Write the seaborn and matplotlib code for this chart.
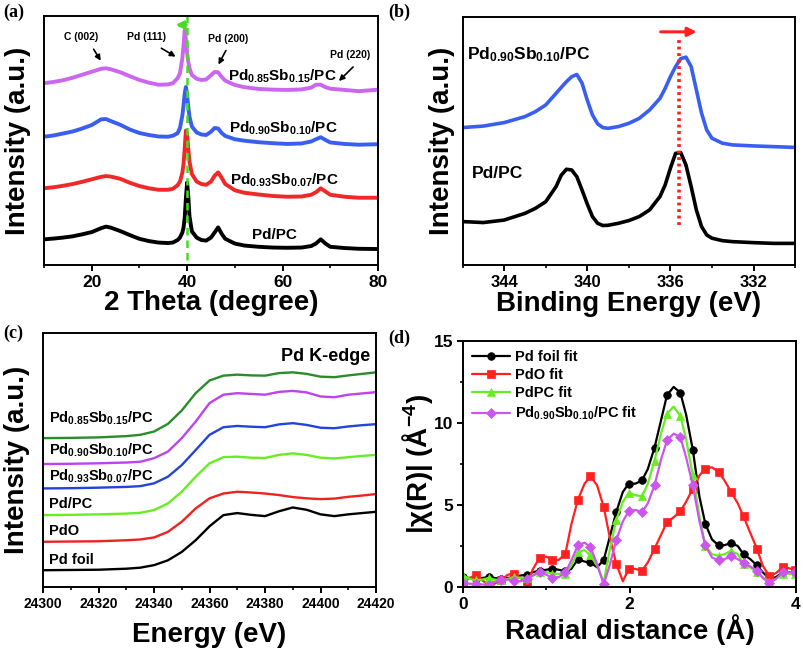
import numpy as np
import pandas as pd
import matplotlib
matplotlib.use('Agg')
import matplotlib.pyplot as plt
from matplotlib.ticker import MultipleLocator
import seaborn as sns

# ---- (a) XRD ----
xrd_theta = [10, 12, 14, 16, 18, 20, 22, 23, 24, 26, 28, 30, 32, 34, 36, 37, 38, 38.5,
             39, 39.25, 39.5, 39.75, 40, 40.25, 40.5, 41, 42, 43, 44, 45, 45.75, 46.5,
             47.25, 48, 50, 52, 55, 58, 61, 64, 66, 67, 68, 69, 70, 73, 76, 80]
xrd_pd = [10.3, 10.6, 11.0, 11.5, 12.3, 13.2, 14.8, 15.4, 15.0, 13.6, 12.0, 10.5, 9.6, 9.0,
          8.8, 9.0, 10.0, 11.0, 13.0, 15.0, 19.0, 27.0, 33.1, 27.5, 19.5, 13.5, 11.0, 10.0,
          9.8, 11.0, 13.0, 15.1, 12.5, 10.5, 8.6, 7.8, 7.3, 7.0, 6.9, 7.0, 7.6, 8.6, 10.3,
          8.6, 7.3, 6.8, 6.5, 6.4]
xrd_sb07 = [30.8, 31.2, 31.8, 32.5, 33.4, 34.4, 35.4, 35.7, 35.5, 34.6, 33.0, 31.7, 30.8,
            30.2, 30.2, 30.6, 32.0, 33.5, 37.0, 40.5, 47.0, 54.0, 52.5, 46.5, 41.5, 36.5,
            33.5, 32.5, 32.2, 33.5, 35.8, 37.2, 35.0, 32.5, 30.0, 29.0, 28.3, 27.7, 27.4,
            27.5, 28.2, 29.2, 30.8, 29.5, 28.2, 27.4, 27.0, 27.0]
xrd_sb10 = [51.5, 52.0, 52.8, 53.6, 54.8, 56.2, 58.5, 58.6, 57.8, 56.3, 54.4, 53.0, 52.2,
            51.6, 51.5, 51.9, 52.9, 55.0, 60.0, 64.0, 69.0, 71.5, 68.0, 63.5, 59.5, 55.6,
            53.2, 52.4, 52.2, 53.5, 55.0, 54.8, 53.0, 51.8, 50.5, 49.9, 49.3, 48.9, 48.6,
            48.8, 49.6, 50.5, 51.3, 50.2, 49.2, 48.6, 48.3, 48.5]
xrd_sb15 = [73.0, 73.5, 74.2, 75.2, 76.4, 77.6, 78.8, 79.0, 78.6, 77.4, 75.8, 74.3, 73.2,
            72.4, 72.5, 73.0, 75.0, 77.0, 83.0, 88.0, 94.4, 90.5, 85.0, 81.5, 79.0, 76.3,
            74.8, 74.3, 74.5, 76.2, 77.5, 77.4, 75.5, 74.0, 72.3, 71.4, 70.7, 70.4, 70.3,
            70.5, 71.2, 72.4, 72.4, 71.4, 70.8, 70.3, 69.8, 70.4]

# ---- (b) XPS Pd 3d ----
xps_be = [346, 345, 344, 343, 342.5, 342, 341.5, 341.25, 341, 340.75, 340.5, 340.25, 340,
          339.75, 339.5, 339.25, 339, 338.5, 338, 337.5, 337, 336.5, 336.25, 336, 335.75,
          335.5, 335.25, 335, 334.75, 334.5, 334.25, 334, 333.5, 333, 332, 331, 330]
xps_pd = [17.5, 17.1, 18.1, 20.8, 22.8, 25.5, 31.6, 36.2, 38.6, 38.3, 35.6, 30.2, 24.6,
          19.5, 16.8, 15.9, 16.0, 16.8, 17.9, 19.5, 22.2, 27.6, 32.3, 39.0, 45.0, 45.3,
          40.3, 31.6, 22.2, 15.5, 12.1, 10.8, 9.8, 9.4, 9.0, 8.7, 8.7]
xps_sb10 = [55.4, 56.0, 57.4, 59.8, 61.8, 64.5, 69.2, 71.6, 73.9, 75.9, 76.8, 73.3, 66.5,
            60.5, 56.9, 55.4, 55.1, 55.8, 57.1, 59.1, 62.5, 67.2, 71.2, 75.9, 80.0, 83.2,
            83.8, 80.0, 70.6, 61.2, 54.4, 51.1, 49.1, 48.4, 48.0, 47.7, 47.4]

# ---- (c) XANES Pd K-edge ----
xanes_e = [24300, 24310, 24320, 24330, 24335, 24340, 24345, 24350, 24355, 24360, 24365,
           24370, 24375, 24380, 24385, 24390, 24395, 24400, 24405, 24410, 24415, 24420]
xanes_foil = [6.6, 6.7, 6.8, 7.2, 7.6, 8.6, 10.5, 13.8, 18.4, 23.9, 28.3, 29.1, 28.4, 27.9,
              29.8, 31.3, 30.4, 28.6, 27.9, 28.6, 29.1, 29.6]
xanes_pdo = [17.8, 17.9, 18.0, 18.4, 18.7, 19.5, 21.7, 25.7, 30.9, 34.9, 36.8, 37.5, 37.2,
             36.8, 36.2, 35.4, 34.9, 34.6, 34.8, 35.5, 36.0, 36.6]
xanes_pdpc = [28.3, 28.4, 28.6, 28.9, 29.2, 30.3, 32.9, 37.5, 43.4, 48.7, 51.1, 51.3, 50.9,
              50.8, 52.0, 52.6, 52.0, 50.9, 50.6, 51.1, 51.6, 52.0]
xanes_sb07 = [38.8, 38.9, 39.1, 39.4, 39.7, 40.8, 43.4, 48.0, 53.9, 59.9, 62.9, 63.4, 63.1,
              62.9, 64.0, 64.5, 63.8, 62.7, 62.5, 63.2, 63.7, 64.1]
xanes_sb10 = [48.4, 48.5, 48.7, 49.0, 49.3, 50.7, 53.3, 58.6, 65.1, 72.4, 75.7, 76.3, 76.0,
              75.7, 76.8, 77.2, 76.6, 75.0, 74.7, 75.7, 76.2, 76.7]
xanes_sb15 = [58.6, 58.7, 58.9, 59.4, 59.9, 61.2, 64.2, 69.5, 76.3, 81.3, 83.2, 83.6, 83.3,
              83.2, 84.2, 84.5, 83.9, 82.8, 82.6, 83.3, 83.9, 84.5]

# ---- (d) EXAFS |chi(R)| ----
exafs_r = [0.00, 0.08, 0.15, 0.23, 0.31, 0.38, 0.46, 0.54, 0.61, 0.69, 0.77, 0.84, 0.92,
           1.00, 1.07, 1.15, 1.23, 1.30, 1.38, 1.46, 1.53, 1.61, 1.69, 1.76, 1.84, 1.92,
           1.99, 2.07, 2.15, 2.22, 2.30, 2.38, 2.45, 2.53, 2.61, 2.68, 2.76, 2.84, 2.91,
           2.99, 3.07, 3.14, 3.22, 3.30, 3.37, 3.45, 3.53, 3.60, 3.68, 3.76, 3.84, 3.91, 3.99]
exafs_foil = [0.60, 0.55, 0.50, 0.55, 0.60, 0.55, 0.50, 0.55, 0.60, 0.70, 0.75, 0.90, 1.00,
              1.05, 1.12, 1.05, 0.95, 1.10, 1.69, 1.55, 1.50, 1.20, 1.65, 3.00, 4.57, 5.80,
              6.30, 6.30, 6.50, 7.20, 8.50, 10.20, 11.70, 12.20, 11.85, 10.50, 8.37, 5.50,
              3.86, 2.90, 2.54, 2.55, 2.68, 2.50, 1.99, 1.70, 1.32, 0.90, 0.50, 0.60, 0.90,
              0.90, 0.90]
exafs_pdo = [0.25, 0.55, 0.71, 0.40, 0.15, 0.20, 0.45, 0.75, 0.81, 0.55, 0.25, 1.10, 1.79,
             1.85, 1.67, 1.65, 2.03, 3.80, 5.33, 6.30, 6.75, 6.20, 4.88, 3.10, 1.42, 0.35,
             1.10, 1.10, 1.00, 1.50, 2.34, 3.20, 3.96, 4.25, 4.62, 5.20, 6.00, 6.80, 7.22,
             7.30, 7.01, 6.50, 5.80, 5.10, 4.30, 3.30, 2.34, 1.30, 0.65, 0.85, 1.22, 1.15,
             1.05]
exafs_pdpc = [0.70, 0.50, 0.40, 0.45, 0.55, 0.45, 0.40, 0.50, 0.60, 0.55, 0.55, 0.70, 0.91,
              0.90, 0.81, 0.80, 0.80, 1.30, 2.13, 2.25, 1.93, 1.30, 0.30, 2.20, 4.07, 5.20,
              5.73, 5.60, 5.53, 6.30, 7.70, 9.40, 10.57, 11.00, 10.43, 9.00, 6.80, 4.30,
              2.50, 2.00, 1.90, 2.00, 2.20, 2.00, 1.42, 1.20, 0.91, 0.60, 0.30, 0.50, 0.81,
              0.80, 0.77]
exafs_sb10 = [0.25, 0.20, 0.20, 0.15, 0.15, 0.30, 0.45, 0.45, 0.37, 0.35, 0.50, 0.70, 0.90,
              0.75, 0.57, 0.60, 0.90, 1.60, 2.55, 2.70, 2.44, 1.40, 0.16, 1.30, 2.85, 4.00,
              4.62, 4.70, 4.57, 5.10, 6.20, 7.80, 8.94, 9.35, 9.15, 7.90, 6.20, 4.00, 2.54,
              1.80, 1.63, 1.70, 1.87, 1.70, 1.46, 1.25, 1.00, 0.55, 0.24, 0.50, 0.91, 0.90,
              0.91]

sns.set_theme(style='ticks')
plt.rcParams.update({
    'font.family': ['Liberation Sans', 'DejaVu Sans'],
    'font.weight': 'bold',
    'axes.labelweight': 'bold',
    'mathtext.fontset': 'custom',
    'mathtext.rm': 'Liberation Sans:bold',
    'mathtext.it': 'Liberation Sans:bold',
    'mathtext.bf': 'Liberation Sans:bold',
    'mathtext.default': 'rm',
    'text.color': 'black',
    'axes.labelcolor': 'black',
    'axes.edgecolor': 'black',
    'axes.linewidth': 1.4,
    'xtick.color': 'black',
    'ytick.color': 'black',
    'xtick.major.width': 1.4,
    'ytick.major.width': 1.4,
    'xtick.minor.width': 1.2,
    'ytick.minor.width': 1.2,
    'xtick.major.size': 4,
    'ytick.major.size': 4,
    'xtick.minor.size': 2.5,
    'ytick.minor.size': 2.5,
    'xtick.direction': 'out',
    'ytick.direction': 'out',
})

fig = plt.figure(figsize=(8.04, 6.52), dpi=100)
ax_a = fig.add_axes([0.0547, 0.5936, 0.4154, 0.3819])
ax_b = fig.add_axes([0.5753, 0.5936, 0.4136, 0.3804])
ax_c = fig.add_axes([0.0535, 0.0997, 0.4142, 0.3896])
ax_d = fig.add_axes([0.5759, 0.0997, 0.4142, 0.3773])

LABEL_FS = 20


def frame(ax, xlabel, ylabel, xlab_y, ylab_x, tick_fs):
    for s in ax.spines.values():
        s.set_visible(True)
        s.set_linewidth(1.4)
    ax.set_xlabel(xlabel, fontsize=LABEL_FS, fontweight='bold', va='center')
    ax.set_ylabel(ylabel, fontsize=LABEL_FS, fontweight='bold', va='center')
    ax.xaxis.set_label_coords(0.5, xlab_y)
    ax.yaxis.set_label_coords(ylab_x, 0.5)
    ax.tick_params(axis='both', which='major', labelsize=tick_fs, pad=3)
    for lab in ax.get_xticklabels() + ax.get_yticklabels():
        lab.set_fontweight('bold')


def sub_label(s1, s2):
    return 'Pd$_{' + s1 + '}$Sb$_{' + s2 + '}$/PC'


# === (a) XRD ===
for yv, c in [(xrd_pd, 'black'), (xrd_sb07, '#f02828'), (xrd_sb10, '#3a5ef0'),
              (xrd_sb15, '#cc66ee')]:
    sns.lineplot(x=xrd_theta, y=yv, ax=ax_a, color=c, lw=2.8, estimator=None, sort=False)
ax_a.axvline(40, ymin=0.02, ymax=1.0, color='#44dd22', ls='--', lw=1.8, dashes=(3, 2))
ax_a.annotate('', xy=(37.0, 96.4), xytext=(40.4, 96.4),
              arrowprops=dict(arrowstyle='-|>', color='#44dd22', lw=2.2, mutation_scale=11))
ax_a.set_xlim(10, 80)
ax_a.set_ylim(0, 100)
ax_a.set_yticks([])
ax_a.xaxis.set_major_locator(MultipleLocator(20))
ax_a.xaxis.set_minor_locator(MultipleLocator(10))
peak_notes = [('C (002)', 17.8, 91.4, 20.1, 87.6, 22.2, 81.1),
              ('Pd (111)', 31.4, 91.6, 34.1, 87.6, 38.1, 83.1),
              ('Pd (200)', 48.6, 90.8, 48.4, 87.1, 46.3, 79.5),
              ('Pd (220)', 74.2, 84.3, 75.2, 80.3, 71.4, 73.1)]
for txt, tx, ty, x0, y0, x1, y1 in peak_notes:
    ax_a.text(tx, ty, txt, fontsize=7.5, fontweight='bold', ha='center', va='center')
    ax_a.annotate('', xy=(x1, y1), xytext=(x0, y0),
                  arrowprops=dict(arrowstyle='-|>', color='black', lw=1.2, mutation_scale=8))
ax_a.text(48.6, 75.9, sub_label('0.85', '0.15'), fontsize=11, ha='left', va='center')
ax_a.text(48.8, 55.0, sub_label('0.90', '0.10'), fontsize=11, ha='left', va='center')
ax_a.text(49.0, 34.1, sub_label('0.93', '0.07'), fontsize=11, ha='left', va='center')
ax_a.text(53.6, 12.0, 'Pd/PC', fontsize=11, ha='left', va='center')
frame(ax_a, '2 Theta (degree)', 'Intensity (a.u.)', -0.153, -0.079, 12.5)

# === (b) XPS ===
sns.lineplot(x=xps_be, y=xps_pd, ax=ax_b, color='black', lw=2.6, estimator=None, sort=False)
sns.lineplot(x=xps_be, y=xps_sb10, ax=ax_b, color='#3a5ef0', lw=2.6, estimator=None,
             sort=False)
ax_b.plot([335.6, 335.6], [16.0, 91.0], color='#ff2020', lw=2.6, ls=(0, (0.8, 1.0)))
ax_b.annotate('', xy=(334.6, 94.0), xytext=(336.6, 94.0),
              arrowprops=dict(arrowstyle='-|>', color='#ff2020', lw=2.2, mutation_scale=13))
ax_b.set_xlim(346, 330)
ax_b.set_ylim(0, 100)
ax_b.set_yticks([])
ax_b.xaxis.set_major_locator(MultipleLocator(4))
ax_b.xaxis.set_minor_locator(MultipleLocator(2))
ax_b.text(345.8, 84.7, sub_label('0.90', '0.10'), fontsize=12.5, ha='left', va='center')
ax_b.text(345.55, 36.7, 'Pd/PC', fontsize=12.5, ha='left', va='center')
frame(ax_b, 'Binding Energy (eV)', 'Intensity (a.u.)', -0.157, -0.062, 12)

# === (c) XANES ===
xanes_series = [(xanes_foil, 'black', 'Pd foil', 10.5),
                (xanes_pdo, '#ee2222', 'PdO', 22.1),
                (xanes_pdpc, '#66ee22', 'Pd/PC', 32.6),
                (xanes_sb07, '#2244dd', sub_label('0.93', '0.07'), 43.4),
                (xanes_sb10, '#bb44ee', sub_label('0.90', '0.10'), 53.9),
                (xanes_sb15, '#2a8c2a', sub_label('0.85', '0.15'), 66.4)]
for yv, c, name, ly in xanes_series:
    sns.lineplot(x=xanes_e, y=yv, ax=ax_c, color=c, lw=1.7, estimator=None, sort=False)
    ax_c.text(24302, ly, name, fontsize=10.5, ha='left', va='center')
ax_c.text(24418, 90.8, 'Pd K-edge', fontsize=13, ha='right', va='center')
ax_c.set_xlim(24300, 24420)
ax_c.set_ylim(0, 100)
ax_c.set_yticks([])
ax_c.xaxis.set_major_locator(MultipleLocator(20))
ax_c.xaxis.set_minor_locator(MultipleLocator(10))
frame(ax_c, 'Energy (eV)', 'Intensity (a.u.)', -0.189, -0.078, 10)

# === (d) EXAFS ===
exafs_series = [(exafs_foil, 'black', 'o', 5.5, 'Pd foil fit'),
                (exafs_pdo, '#ff2020', 's', 5.5, 'PdO fit'),
                (exafs_pdpc, '#66ee22', '^', 6.0, 'PdPC fit'),
                (exafs_sb10, '#cc55ee', 'D', 5.0, 'Pd$_{0.90}$Sb$_{0.10}$/PC fit')]
for yv, c, m, ms, name in exafs_series:
    sns.lineplot(x=exafs_r, y=yv, ax=ax_d, color=c, lw=1.6, marker=m, markersize=ms,
                 markevery=2, markeredgecolor=c, markeredgewidth=0.5, estimator=None,
                 sort=False, label=name)
ax_d.set_xlim(0, 4)
ax_d.set_ylim(0, 15)
ax_d.xaxis.set_major_locator(MultipleLocator(2))
ax_d.xaxis.set_minor_locator(MultipleLocator(1))
ax_d.yaxis.set_major_locator(MultipleLocator(5))
ax_d.yaxis.set_minor_locator(MultipleLocator(2.5))
leg = ax_d.legend(loc='upper left', frameon=False, fontsize=10.5, handlelength=2.6,
                  labelspacing=0.3, borderaxespad=0.2, handletextpad=0.35)
for t in leg.get_texts():
    t.set_fontweight('bold')
frame(ax_d, 'Radial distance (\u00c5)', '|\u03c7(R)| (\u00c5$^{-4}$)', -0.175, -0.137, 12.5)

for lbl, x, y in [('(a)', 0.017, 0.981), ('(b)', 0.497, 0.981), ('(c)', 0.017, 0.488),
                  ('(d)', 0.497, 0.481)]:
    fig.text(x, y, lbl, family='Liberation Serif', fontsize=13, fontweight='bold',
             ha='center', va='center')

fig.savefig('out.png', dpi=100)
